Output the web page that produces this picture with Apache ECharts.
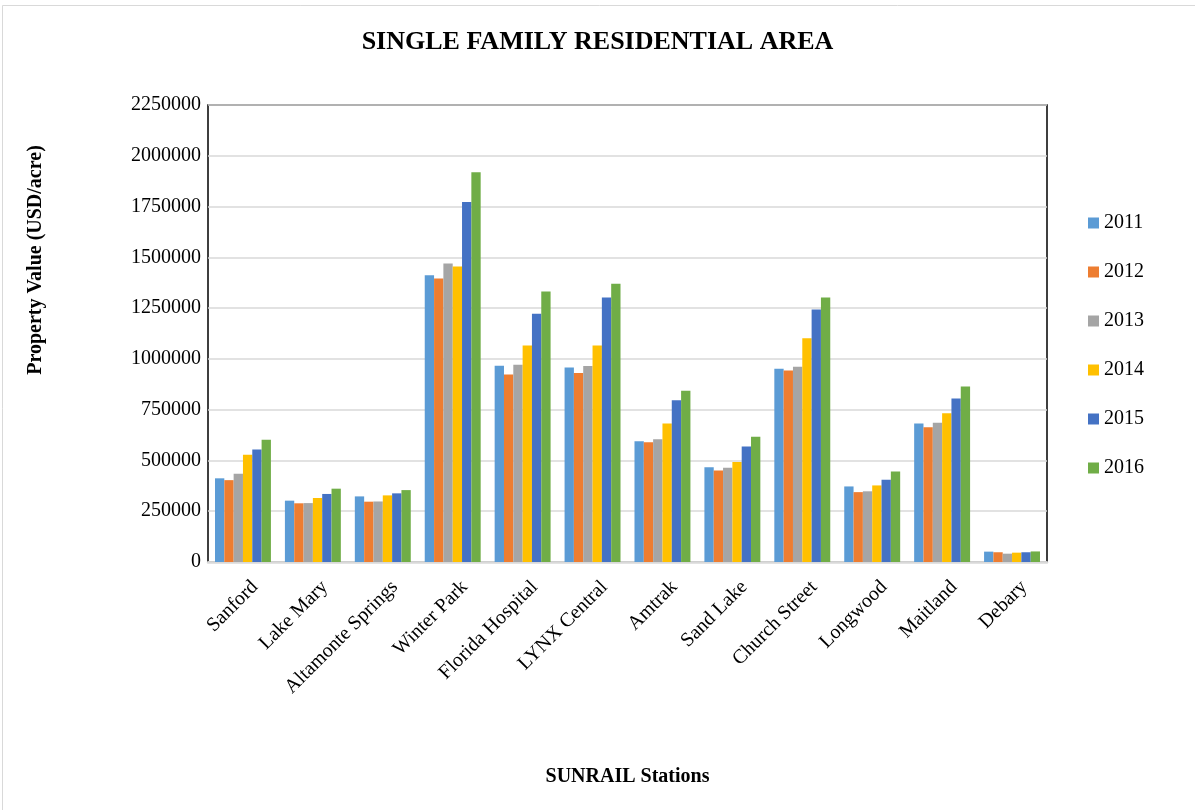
<!DOCTYPE html>
<html>
<head>
<meta charset="utf-8">
<script src="https://cdn.jsdelivr.net/npm/echarts@6/dist/echarts.min.js"></script>
<style>html,body{margin:0;padding:0;background:#fff;}#chart{width:1195px;height:810px;}</style>
</head>
<body>
<div id="chart"></div>
<script>
var categories = ['Sanford','Lake Mary','Altamonte Springs','Winter Park','Florida Hospital','LYNX Central','Amtrak','Sand Lake','Church Street','Longwood','Maitland','Debary'];
var years = ['2011','2012','2013','2014','2015','2016'];
var v2011 = [412000, 302000, 323000, 1412000, 966000, 958000, 594000, 466000, 951000, 372000, 682000, 51000];
var v2012 = [403000, 289000, 297000, 1396000, 923000, 930000, 590000, 451000, 943000, 344000, 664000, 48000];
var v2013 = [435000, 290000, 298000, 1470000, 971000, 965000, 604000, 464000, 961000, 348000, 686000, 41000];
var v2014 = [528000, 315000, 328000, 1455000, 1066000, 1066000, 682000, 492000, 1101000, 377000, 732000, 46000];
var v2015 = [554000, 335000, 338000, 1772000, 1222000, 1302000, 796000, 569000, 1243000, 405000, 805000, 48000];
var v2016 = [602000, 361000, 354000, 1919000, 1332000, 1370000, 843000, 617000, 1302000, 446000, 864000, 52000];
var colors = ['#5B9BD5','#ED7D31','#A5A5A5','#FFC000','#4472C4','#70AD47'];
var yTicks = { min: 0, max: 2250000, interval: 250000 };

var FONT = "'Liberation Serif','Times New Roman',serif";
var seriesData = [v2011, v2012, v2013, v2014, v2015, v2016];

var chart = echarts.init(document.getElementById('chart'), null, {renderer: 'canvas'});
var option = {
  backgroundColor: '#fff',
  animation: false,
  color: colors,
  title: {
    text: 'SINGLE FAMILY RESIDENTIAL AREA',
    left: 'center',
    top: 28,
    padding: 0,
    textStyle: { fontFamily: FONT, fontSize: 26, fontWeight: 'bold', color: '#000', lineHeight: 28 }
  },
  legend: {
    orient: 'vertical',
    left: 1088,
    top: 213,
    padding: 0,
    itemWidth: 11,
    itemHeight: 11,
    itemGap: 29,
    icon: 'rect',
    textStyle: { fontFamily: FONT, fontSize: 20, color: '#000', lineHeight: 20 },
    data: years
  },
  grid: {
    left: 208, right: 148, top: 105, bottom: 248,
    show: true, borderColor: '#000', borderWidth: 1.5, backgroundColor: 'transparent'
  },
  xAxis: {
    type: 'category',
    data: categories,
    name: 'SUNRAIL Stations',
    nameLocation: 'middle',
    nameGap: 205,
    nameTextStyle: { fontFamily: FONT, fontSize: 20, fontWeight: 'bold', color: '#000' },
    axisLine: { show: true, lineStyle: { color: '#d9d9d9', width: 2.5 } },
    axisTick: { show: false },
    axisLabel: {
      rotate: 45,
      interval: 0,
      margin: 10,
      fontFamily: FONT,
      fontSize: 20,
      color: '#000',
      lineHeight: 20,
      verticalAlign: 'top',
      padding: [7, 0, 0, 0]
    }
  },
  yAxis: {
    type: 'value',
    min: yTicks.min,
    max: yTicks.max,
    interval: yTicks.interval,
    axisLine: { show: false },
    axisTick: { show: false },
    axisLabel: {
      fontFamily: FONT, fontSize: 20, color: '#000', margin: 7,
      formatter: function (v) { return String(v); }
    },
    splitLine: { show: true, lineStyle: { color: '#d9d9d9', width: 1.5 } }
  },
  graphic: [
    {
      type: 'rect',
      shape: { x: 2.5, y: 5.5, width: 1300, height: 900 },
      style: { fill: 'none', stroke: '#d9d9d9', lineWidth: 1 },
      silent: true, z: -10
    },
    {
      type: 'text',
      x: 36, y: 260,
      rotation: Math.PI / 2,
      style: {
        text: 'Property Value (USD/acre)',
        font: "bold 20px 'Liberation Serif','Times New Roman',serif",
        fill: '#000',
        textAlign: 'center',
        textVerticalAlign: 'middle'
      }
    }
  ],
  series: years.map(function (y, i) {
    return {
      name: y,
      type: 'bar',
      data: seriesData[i],
      barGap: '0%',
      barCategoryGap: '20%',
      itemStyle: { color: colors[i] }
    };
  })
};
chart.setOption(option);
</script>
</body>
</html>
